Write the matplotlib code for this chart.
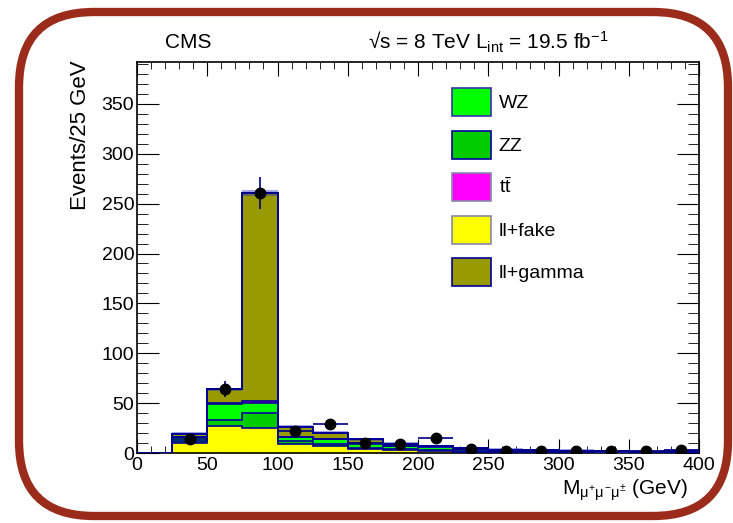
import matplotlib
matplotlib.use("Agg")
import matplotlib.pyplot as plt
import numpy as np
from matplotlib.patches import Patch, FancyBboxPatch
from matplotlib.ticker import MultipleLocator

plt.rcParams['font.family'] = ['Liberation Sans', 'DejaVu Sans']
plt.rcParams['mathtext.fontset'] = 'custom'
plt.rcParams['mathtext.rm'] = 'Liberation Sans'
plt.rcParams['mathtext.it'] = 'Liberation Sans'

edges = np.arange(0, 425, 25)
centers = edges[:-1] + 12.5

# stacked backgrounds, bottom to top
ll_fake = [0, 10, 27, 25, 9, 7, 4, 3, 2, 1.5, 1, 0.8, 0.6, 0.5, 0.4, 0.5]
zz = [0, 2, 6, 15, 3, 2, 1.5, 1, 0.8, 0.6, 0.4, 0.4, 0.3, 0.3, 0.2, 0.3]
wz = [0, 4, 16, 10, 4, 5, 4, 3, 3, 2, 1.2, 1, 0.9, 0.8, 0.6, 0.8]
ttbar = [0, 0.3, 1, 2, 0.5, 0.4, 0.3, 0.2, 0.2, 0.1, 0.1, 0.1, 0.1, 0, 0, 0.1]
ll_gamma = [0, 3, 14, 209, 10, 6, 4, 2, 1, 0.8, 0.5, 0.4, 0.3, 0.3, 0.3, 0.5]

data = [0, 14, 64, 261, 22, 29, 10, 9, 15, 4, 2, 2, 2, 2, 2, 3]

comps = [ll_fake, zz, wz, ttbar, ll_gamma]
colors = ['#ffff00', '#00cc00', '#00ff00', '#ff00ff', '#999900']

fig = plt.figure(figsize=(7.33, 5.23), dpi=100)
ax = fig.add_axes([137/733, 70/523, 562/733, 391/523])

bottom = np.zeros(len(centers))
for vals, col in zip(comps, colors):
    top = bottom + np.array(vals)
    ax.stairs(top, edges, baseline=bottom, fill=True, color=col, zorder=2)
    ax.stairs(top, edges, baseline=None, color='#000099', lw=1.2, zorder=3)
    bottom = top

total = bottom
unc = np.maximum(0.012 * total, 1.5)
ax.stairs(total + unc, edges, baseline=total - unc, fill=True,
          color='#3333cc', alpha=0.45, lw=0, zorder=4)
ax.stairs(total, edges, baseline=0, color='#000099', lw=1.4, zorder=4)

d = np.array(data, dtype=float)
m = d > 0
ax.errorbar(centers[m], d[m], xerr=12.5, yerr=np.sqrt(d[m]), fmt='o',
            color='black', ecolor='#000080', elinewidth=1.2, markersize=7.5,
            capsize=0, zorder=5)

ax.set_xlim(0, 400)
ax.set_ylim(0, 392)
ax.xaxis.set_major_locator(MultipleLocator(50))
ax.xaxis.set_minor_locator(MultipleLocator(10))
ax.yaxis.set_major_locator(MultipleLocator(50))
ax.yaxis.set_minor_locator(MultipleLocator(10))
ax.tick_params(which='both', direction='in', top=True, right=True, labelsize=14)
ax.tick_params(axis='x', which='major', length=10, pad=3)
ax.tick_params(axis='x', which='minor', length=5)
ax.tick_params(axis='y', which='major', length=16, pad=2)
ax.tick_params(axis='y', which='minor', length=8)
for s in ax.spines.values():
    s.set_linewidth(1.2)

handles = [Patch(facecolor=c, edgecolor=e, lw=1.2) for c, e in
           zip(['#00ff00', '#00cc00', '#ff00ff', '#ffff00', '#999900'],
               ['#3333aa', '#000099', '#8888aa', '#8888aa', '#000099'])]
labels = ['WZ', 'ZZ', r't$\bar{\rm t}$', 'll+fake', 'll+gamma']
ax.legend(handles, labels, loc='upper left', frameon=False, fontsize=14,
          bbox_to_anchor=(452/733, 1 - 88/523), bbox_transform=fig.transFigure,
          handlelength=2.0, handleheight=1.85, labelspacing=0.74,
          handletextpad=0.4, borderpad=0, borderaxespad=0)

fig.text(188/733, 1 - 42/523, 'CMS', ha='center', va='center', fontsize=15)
fig.text(368/733, 1 - 42/523,
         '√s = 8 TeV L$_{\\rm int}$ = 19.5 fb$^{-1}$',
         ha='left', va='center', fontsize=15)
fig.text(80/733, 1 - 60/523, 'Events/25 GeV', rotation=90, ha='center',
         va='top', fontsize=16)
fig.text(688/733, 1 - 490/523, r'M$_{\mu^{+}\mu^{-}\mu^{\pm}}$ (GeV)',
         ha='right', va='center', fontsize=15)

border = FancyBboxPatch((0.19, 0.07), 7.09, 5.04,
                        boxstyle='round,pad=0,rounding_size=0.75',
                        transform=fig.dpi_scale_trans, fill=False,
                        edgecolor='#9b2b1b', lw=6, zorder=10)
fig.patches.append(border)

fig.savefig('out.png', dpi=100)
